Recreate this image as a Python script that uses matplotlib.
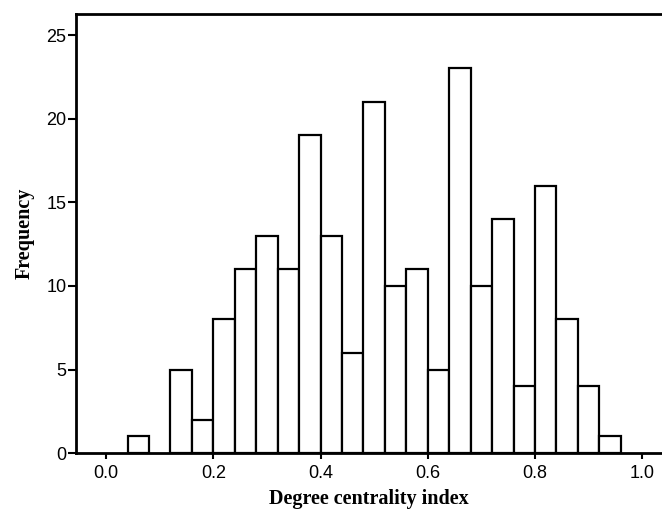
import matplotlib
matplotlib.use("Agg")
import matplotlib.pyplot as plt
import numpy as np

bin_edges = [round(0.04 * i, 2) for i in range(25)]
counts = [0, 1, 0, 5, 2, 8, 11, 13, 11, 19, 13, 6, 21, 10, 11, 5, 23, 10, 14, 4, 16, 8, 4, 1]
x_ticks = [0.0, 0.2, 0.4, 0.6, 0.8, 1.0]
y_ticks = [0, 5, 10, 15, 20, 25]

fig = plt.figure(figsize=(6.62, 5.12), dpi=100)
ax = fig.add_axes([0.115, 0.115, 0.885, 0.8577])

lefts = bin_edges[:-1]
for l, c in zip(lefts, counts):
    if c > 0:
        ax.bar(l, c, width=0.04, align='edge', facecolor='white', edgecolor='black', linewidth=1.6, zorder=2)

ax.set_xlim(-0.056, 1.037)
ax.set_ylim(0, 26.26)
ax.set_xticks(x_ticks)
ax.set_xticklabels([f"{t:.1f}" for t in x_ticks], fontfamily='Liberation Sans', fontsize=13)
ax.set_yticks(y_ticks)
ax.set_yticklabels([str(t) for t in y_ticks], fontfamily='Liberation Sans', fontsize=13)
ax.tick_params(axis='y', direction='out', length=6, width=1.5, pad=1)
ax.tick_params(axis='x', direction='out', length=4.5, width=1.5, pad=4)

ax.spines['right'].set_visible(False)
for s in ['left', 'top', 'bottom']:
    ax.spines[s].set_linewidth(2)

ax.set_xlabel('Degree centrality index', fontfamily='Liberation Serif', fontweight='bold', fontsize=14.5, labelpad=5)
ax.set_ylabel('Frequency', fontfamily='Liberation Serif', fontweight='bold', fontsize=14.5, labelpad=8)

fig.savefig('out.png', dpi=100)
